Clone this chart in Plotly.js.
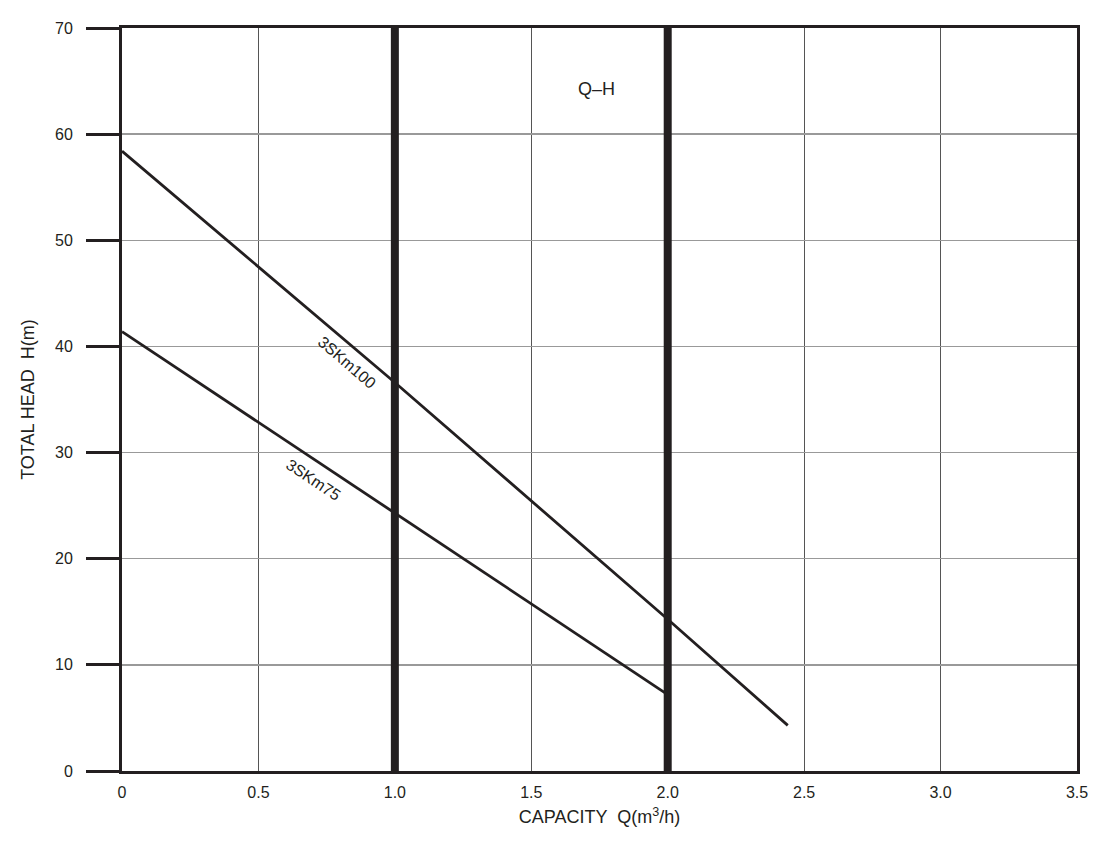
<!DOCTYPE html>
<html>
<head>
<meta charset="utf-8">
<script src="https://cdn.plot.ly/plotly-3.0.1.min.js"></script>
<style>html,body{margin:0;padding:0;background:#fff;}#chart{width:1110px;height:850px;}</style>
</head>
<body>
<div id="chart"></div>
<script>
// Data
const capacity100 = [0, 1.0, 2.0, 2.44];
const head100 = [58.4, 36.6, 14.3, 4.3];
const capacity75 = [0, 1.0, 2.0];
const head75 = [41.4, 24.3, 7.2];
const seriesNames = ['3SKm100', '3SKm75'];
const xTickVals = [0, 0.5, 1.0, 1.5, 2.0, 2.5, 3.0, 3.5];
const xTickText = ['0', '0.5', '1.0', '1.5', '2.0', '2.5', '3.0', '3.5'];
const yTickVals = [0, 10, 20, 30, 40, 50, 60, 70];
const dividerX = [1.0, 2.0];

const ink = '#231f20';
const font = 'Liberation Sans, Arial, Helvetica, sans-serif';

const traces = [
  {x: capacity100, y: head100, name: seriesNames[0], mode: 'lines', line: {color: ink, width: 2.8}},
  {x: capacity75, y: head75, name: seriesNames[1], mode: 'lines', line: {color: ink, width: 2.8}}
];

const shapes = dividerX.map(v => ({
  type: 'line', xref: 'x', yref: 'y', x0: v, x1: v, y0: 0, y1: 70,
  line: {color: ink, width: 8}, layer: 'above'
}));

const layout = {
  width: 1110, height: 850,
  margin: {l: 122, r: 33, t: 28, b: 79},
  paper_bgcolor: '#fff', plot_bgcolor: '#fff',
  showlegend: false,
  font: {family: font, color: ink, size: 16},
  xaxis: {
    range: [0, 3.5], tickmode: 'array', tickvals: xTickVals, ticktext: xTickText,
    showgrid: true, gridcolor: '#555', gridwidth: 1,
    showline: true, linecolor: ink, linewidth: 3, mirror: true,
    zeroline: false, ticks: '', ticklabelstandoff: 5,
    tickfont: {size: 16, color: ink},
    title: {text: 'CAPACITY  Q(m<sup>3</sup>/h)', font: {size: 18, color: ink}, standoff: 11},
    automargin: false, fixedrange: true
  },
  yaxis: {
    range: [0, 70], tickmode: 'array', tickvals: yTickVals,
    showgrid: true, gridcolor: '#999', gridwidth: 1.5,
    showline: true, linecolor: ink, linewidth: 3, mirror: true,
    zeroline: false, ticks: 'outside', ticklen: 33, tickwidth: 3, tickcolor: ink,
    ticklabelstandoff: 10,
    tickfont: {size: 16, color: ink},
    title: {text: 'TOTAL HEAD  H(m)', font: {size: 18, color: ink}, standoff: 16},
    automargin: false, fixedrange: true
  },
  shapes: shapes,
  annotations: [
    {x: 1.74, y: 64.3, xref: 'x', yref: 'y', text: 'Q\u2013H', showarrow: false, font: {size: 18, color: ink}},
    {x: 0.825, y: 38.5, xref: 'x', yref: 'y', text: seriesNames[0], showarrow: false, textangle: 40.6, font: {size: 16, color: ink}},
    {x: 0.70, y: 27.5, xref: 'x', yref: 'y', text: seriesNames[1], showarrow: false, textangle: 33.6, font: {size: 16, color: ink}}
  ]
};

Plotly.newPlot('chart', traces, layout, {displayModeBar: false, staticPlot: true});
</script>
</body>
</html>
